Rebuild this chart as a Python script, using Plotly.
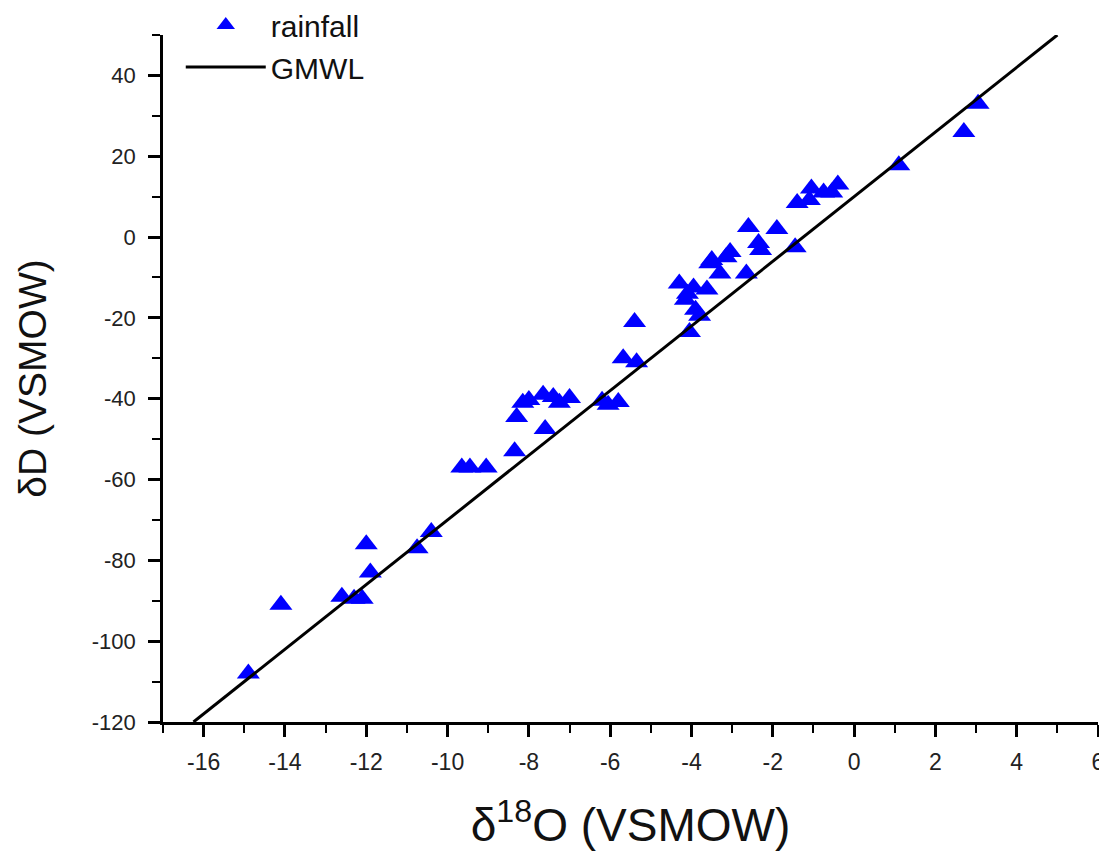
import plotly.graph_objects as go

# rainfall samples
d18O = [-14.9, -14.1, -12.6, -12.3, -12.1, -12.0, -11.9, -10.75, -10.4,
        -9.65, -9.45, -9.05, -8.35, -8.3, -8.15, -8.0, -7.65, -7.6, -7.4,
        -7.25, -7.0, -6.2, -6.05, -5.8, -5.68, -5.4, -5.35, -4.3, -4.15,
        -4.1, -4.05, -3.95, -3.9, -3.8, -3.62, -3.55, -3.5, -3.3, -3.15,
        -3.05, -2.65, -2.6, -2.35, -2.3, -1.9, -1.45, -1.4, -1.1, -1.05,
        -0.75, -0.55, -0.4, 1.1, 2.7, 3.05]
dD = [-108, -91, -89, -89.5, -89.5, -76, -83, -77, -73,
      -57, -57, -57, -53, -44.5, -41, -40.3, -39, -47.5, -39.6,
      -41, -39.8, -40.5, -41.5, -40.8, -30, -21, -31, -11.5, -15.5,
      -14, -23.5, -12.5, -18, -19.5, -13, -6.5, -5.7, -9, -5,
      -3.7, -9, 2.5, -1.5, -3.2, 2, -2.5, 8.4, 9.2, 12,
      11, 11, 13, 17.8, 26, 33]

# GMWL: dD = 8*d18O + 10
gmwl_x = [-16.25, 5.0]
gmwl_y = [8 * v + 10 for v in gmwl_x]

x_ticks = [-16, -14, -12, -10, -8, -6, -4, -2, 0, 2, 4, 6]
y_ticks = [-120, -100, -80, -60, -40, -20, 0, 20, 40]

fig = go.Figure()
fig.add_trace(go.Scatter(
    x=d18O, y=dD, mode="markers", name="rainfall",
    marker=dict(symbol="triangle-up", size=20, color="#0000ff",
                line=dict(width=0)),
    cliponaxis=False,
))
fig.add_trace(go.Scatter(
    x=gmwl_x, y=gmwl_y, mode="lines", name="GMWL",
    line=dict(color="black", width=3),
))

axis_common = dict(
    showgrid=False, zeroline=False, showline=True, linecolor="black",
    linewidth=2.5, ticks="outside", ticklen=12, tickwidth=2.5,
    tickcolor="black", mirror=False,
)

fig.update_layout(
    width=1107, height=855,
    paper_bgcolor="white", plot_bgcolor="white",
    margin=dict(l=155, r=17, t=27, b=141, autoexpand=False),
    font=dict(family="Arial", color="#222"),
    xaxis=dict(
        range=[-17, 6], tickvals=x_ticks,
        ticktext=[str(v) for v in x_ticks],
        tickfont=dict(family="Arial", size=23, color="#222"),
        ticklabelstandoff=6,
        minor=dict(ticks="outside", ticklen=8, tickwidth=2, dtick=1,
                   tickcolor="black"),
        title=dict(text="δ<sup>18</sup>O (VSMOW)",
                   font=dict(family="Arial", size=46, color="#111"),
                   standoff=35),
        **axis_common,
    ),
    yaxis=dict(
        range=[-120, 50], tickvals=y_ticks,
        ticktext=[str(v) for v in y_ticks],
        tickfont=dict(family="Arial", size=22, color="#222"),
        ticklabelstandoff=8,
        minor=dict(ticks="outside", ticklen=8, tickwidth=2, dtick=10,
                   tickcolor="black"),
        title=dict(text="δD (VSMOW)",
                   font=dict(family="Arial", size=39, color="#111"),
                   standoff=34),
        **axis_common,
    ),
    legend=dict(
        x=0.019, y=1.0524, xanchor="left", yanchor="top",
        bgcolor="rgba(0,0,0,0)",
        font=dict(family="Arial", size=30, color="#111"),
        itemwidth=80, tracegroupgap=0,
    ),
    showlegend=True,
)

fig.write_html("out.html")
